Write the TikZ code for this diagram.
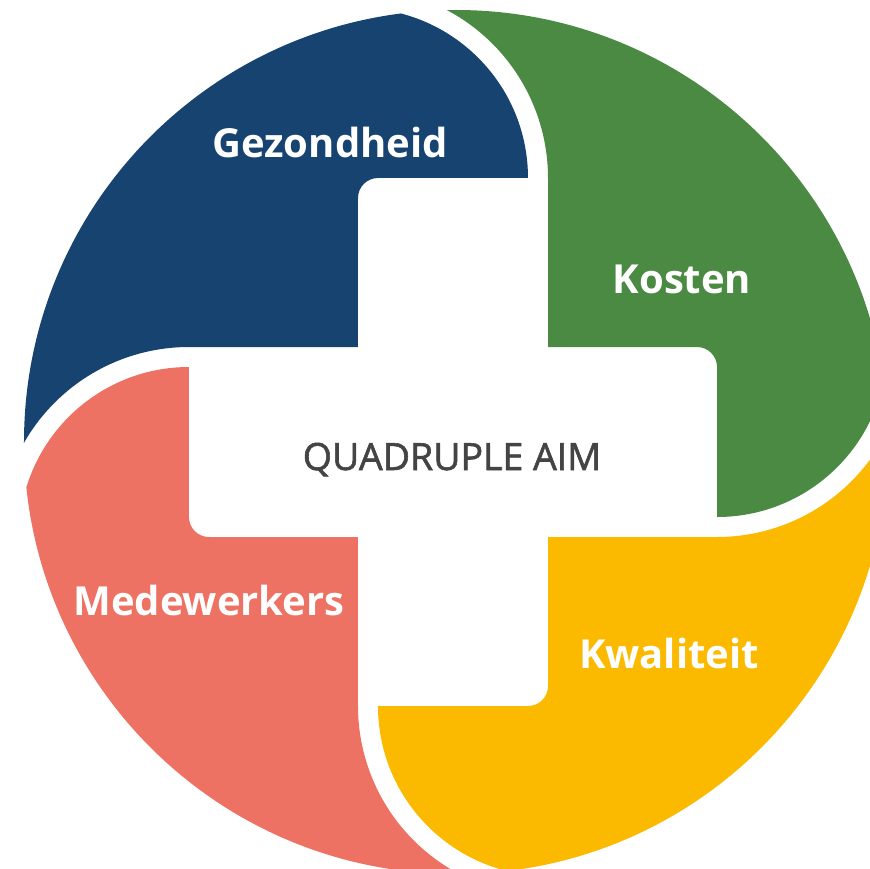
\documentclass[tikz,border=0pt]{standalone}
\usepackage{fontspec}
\setmainfont{Open Sans}
\newfontfamily\aimfont[FakeBold=1.6]{Open Sans}
\definecolor{qblue}{HTML}{174370}
\definecolor{qgreen}{HTML}{4A8A43}
\definecolor{qyellow}{HTML}{FBBA00}
\definecolor{qred}{HTML}{EE7263}
\definecolor{qgray}{HTML}{444444}
\tikzset{
  % one quarter of the pinwheel, drawn in the top-left position
  petal/.pic={
    \fill[pic actions]
      (-95,95) -- (-264,95)
      arc[start angle=90, end angle=200, radius=190]
      -- (-700,-160) -- (-700,700) -- (-95,700) -- (-95,434)
      arc[start angle=90, end angle=0, radius=170]
      -- (-75,264)
      arc[start angle=90, end angle=180, radius=20]
      -- cycle;
  },
  label/.style={text=white, font=\bfseries\fontsize{40}{47}\selectfont, anchor=base},
  aim/.style={text=qgray, font=\aimfont\fontsize{37.5}{44}\selectfont, anchor=base}
}
\begin{document}
\begin{tikzpicture}[x=1pt, y=1pt]
  \useasboundingbox (-453,-426) rectangle (417,442);
  \begin{scope}
    \clip (3,0) circle[radius=432];
    \pic[fill=qblue]   {petal};
    \pic[fill=qred, rotate=90]   {petal};
    \pic[fill=qyellow, rotate=180] {petal};
    \pic[fill=qgreen, rotate=270]  {petal};
  \end{scope}
  \node[label] (gez) at (-123,284) {Gezondheid};
  \node[label] (kos) at (229,149) {Kosten};
  \node[label] (med) at (-244,-173) {Medewerkers};
  \node[label] (kwa) at (216,-226) {Kwaliteit};
  \node[aim] (aim) at (-1,-28) {QUADRUPLE AIM};
\end{tikzpicture}
\end{document}
